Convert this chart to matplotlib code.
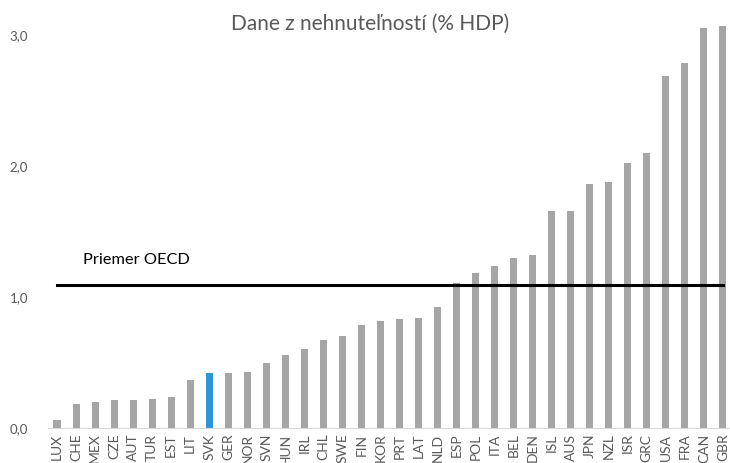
import matplotlib.pyplot as plt
import numpy as np

countries = ["LUX", "CHE", "MEX", "CZE", "AUT", "TUR", "EST", "LIT", "SVK", "GER",
             "NOR", "SVN", "HUN", "IRL", "CHL", "SWE", "FIN", "KOR", "PRT", "LAT",
             "NLD", "ESP", "POL", "ITA", "BEL", "DEN", "ISL", "AUS", "JPN", "NZL",
             "ISR", "GRC", "USA", "FRA", "CAN", "GBR"]
values = [0.06, 0.18, 0.20, 0.21, 0.21, 0.22, 0.24, 0.37, 0.42, 0.42,
          0.43, 0.50, 0.56, 0.60, 0.67, 0.70, 0.79, 0.82, 0.83, 0.84,
          0.92, 1.11, 1.18, 1.24, 1.30, 1.32, 1.66, 1.66, 1.86, 1.88,
          2.02, 2.10, 2.69, 2.79, 3.05, 3.07]
oecd_avg = 1.09
highlight = "SVK"
y_ticks = [0.0, 1.0, 2.0, 3.0]

plt.rcParams['font.family'] = ['Lato', 'DejaVu Sans']

W, H = 730, 463
fig = plt.figure(figsize=(W / 100, H / 100), dpi=100)
ax = fig.add_axes([47.5 / W, (H - 428) / H, (W - 47.5) / W, 408 / H])

x = np.arange(len(countries))
colors = ["#2E95DB" if c == highlight else "#A5A5A5" for c in countries]
ax.bar(x, values, width=0.37, color=colors, zorder=2)

# OECD average line + label
ax.plot([x[0], x[-1]], [oecd_avg, oecd_avg], color="black", lw=2.2, zorder=3)
ax.text(1.37, 1.285, "Priemer OECD", fontsize=11.8, color="black", va="center", ha="left")

ax.set_xlim(-0.5, 35.37)
ax.set_ylim(0, 408 / 131)
ax.set_xticks(x)
ax.set_xticklabels(countries, rotation=90, fontsize=10, color="#595959")
ax.set_yticks(y_ticks)
ax.set_yticklabels([f"{t:.1f}".replace(".", ",") for t in y_ticks], fontsize=9.5, color="#595959")
ax.tick_params(length=0, pad=4)
ax.tick_params(axis="y", pad=14)

for s in ["top", "right", "left"]:
    ax.spines[s].set_visible(False)
ax.spines["bottom"].set_color("#D9D9D9")

fig.text(370 / W, 1 - 23.5 / H, "Dane z nehnuteľností (% HDP)", fontsize=15, color="#595959",
         ha="center", va="center")

fig.savefig("out.png", dpi=100)
